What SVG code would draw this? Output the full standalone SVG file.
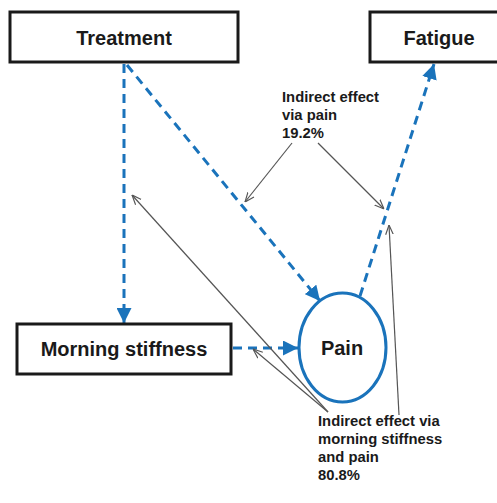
<svg xmlns="http://www.w3.org/2000/svg" width="497" height="503" viewBox="0 0 497 503">
<style>
.box{fill:#fff;stroke:#1a1a1a;stroke-width:3}
.lbl{font-family:"Liberation Sans",Arial,sans-serif;font-weight:bold;font-size:20px;fill:#1a1a1a;text-anchor:middle}
.note{font-family:"Liberation Sans",Arial,sans-serif;font-weight:bold;font-size:14.8px;fill:#1a1a1a}
.dash{fill:none;stroke:#1a73bb;stroke-width:3;stroke-dasharray:9,6}
.thin{fill:none;stroke:#555;stroke-width:1.2}
</style>
<defs>
<marker id="bh" viewBox="0 0 10 10" refX="10" refY="5" markerWidth="5" markerHeight="5" orient="auto" markerUnits="strokeWidth">
<path d="M0,0 L10,5 L0,10 z" fill="#1a73bb"/>
</marker>
<marker id="gh" viewBox="0 0 10 10" refX="10" refY="5" markerWidth="8" markerHeight="8" orient="auto" markerUnits="strokeWidth">
<path d="M0,1 L10,5 L0,9" fill="none" stroke="#555" stroke-width="1.2"/>
</marker>
</defs>
<g id="connectors">
<line class="dash" x1="124" y1="64" x2="124" y2="323" marker-end="url(#bh)"/>
<line class="dash" x1="127" y1="65" x2="320" y2="301" marker-end="url(#bh)"/>
<line class="dash" x1="233" y1="348" x2="298" y2="348" marker-end="url(#bh)"/>
<line class="dash" x1="360" y1="296" x2="434" y2="64" marker-end="url(#bh)"/>
<line class="thin" x1="292" y1="143" x2="245" y2="202" marker-end="url(#gh)"/>
<line class="thin" x1="318" y1="143" x2="384" y2="209" marker-end="url(#gh)"/>
<line class="thin" x1="399" y1="415" x2="389" y2="225" marker-end="url(#gh)"/>
<line class="thin" x1="328" y1="412" x2="132" y2="195" marker-end="url(#gh)"/>
<line class="thin" x1="328" y1="412" x2="253" y2="349" marker-end="url(#gh)"/>
</g>
<g id="treatment">
<rect class="box" x="10" y="12" width="228" height="50"/>
<text class="lbl" x="124" y="45">Treatment</text>
</g>
<g id="fatigue">
<rect class="box" x="370" y="12" width="140" height="50"/>
<text class="lbl" x="439" y="45">Fatigue</text>
</g>
<g id="morning-stiffness">
<rect class="box" x="17" y="324" width="214" height="50"/>
<text class="lbl" x="124" y="356">Morning stiffness</text>
</g>
<g id="pain">
<ellipse cx="342.5" cy="347.5" rx="43.5" ry="54.5" fill="#fff" stroke="#1a73bb" stroke-width="3"/>
<text class="lbl" x="342" y="355">Pain</text>
</g>
<g id="label-pain">
<text class="note" x="282" y="102">Indirect effect</text>
<text class="note" x="282" y="120">via pain</text>
<text class="note" x="282" y="138">19.2%</text>
</g>
<g id="label-ms">
<text class="note" x="318" y="426">Indirect effect via</text>
<text class="note" x="318" y="444">morning stiffness</text>
<text class="note" x="318" y="462">and pain</text>
<text class="note" x="318" y="480">80.8%</text>
</g>
</svg>
